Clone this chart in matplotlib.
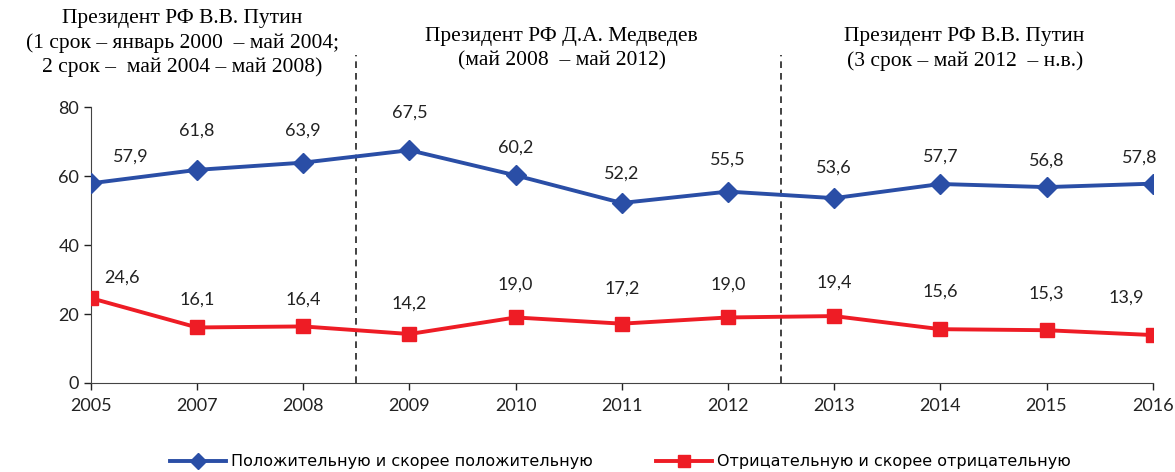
import matplotlib.pyplot as plt

# данные
years = ['2005', '2007', '2008', '2009', '2010', '2011', '2012', '2013', '2014', '2015', '2016']
positive = [57.9, 61.8, 63.9, 67.5, 60.2, 52.2, 55.5, 53.6, 57.7, 56.8, 57.8]
negative = [24.6, 16.1, 16.4, 14.2, 19.0, 17.2, 19.0, 19.4, 15.6, 15.3, 13.9]
pos_label = 'Положительную и скорее положительную'
neg_label = 'Отрицательную и скорее отрицательную'
periods = ['Президент РФ В.В. Путин\n(1 срок – январь 2000  – май 2004;\n2 срок –  май 2004 – май 2008)',
           'Президент РФ Д.А. Медведев\n(май 2008  – май 2012)',
           'Президент РФ В.В. Путин\n(3 срок – май 2012  – н.в.)']

plt.rcParams['font.family'] = ['Lato', 'DejaVu Sans']

fig = plt.figure(figsize=(11.75, 4.72), dpi=100)
ax = fig.add_axes([0.0774, 0.1886, 0.9036, 0.5845])

x = list(range(len(years)))
ax.plot(x, positive, color='#2a4ea6', lw=2.8, marker='D', ms=10, label=pos_label, zorder=3)
ax.plot(x, negative, color='#ee1c25', lw=2.8, marker='s', ms=10, label=neg_label, zorder=3)

# подписи значений (смещения в пунктах)
pos_off = [(29, 19), (0, 28), (0, 23), (0, 27), (0, 20), (0, 21), (0, 23), (0, 22), (0, 20), (0, 19), (-9, 19)]
neg_off = [(22, 15), (0, 20), (0, 19), (0, 22), (0, 24), (0, 25), (0, 24), (0, 24), (0, 27), (0, 26), (-19, 27)]
for i in x:
    ax.annotate(f'{positive[i]:.1f}'.replace('.', ','), (i, positive[i]), xytext=pos_off[i],
                textcoords='offset points', ha='center', va='center', fontsize=13, color='#222222')
    ax.annotate(f'{negative[i]:.1f}'.replace('.', ','), (i, negative[i]), xytext=neg_off[i],
                textcoords='offset points', ha='center', va='center', fontsize=13, color='#222222')

ax.set_xlim(0, len(years) - 1)
ax.set_ylim(0, 80)
ax.set_yticks([0, 20, 40, 60, 80])
ax.set_xticks(x)
ax.set_xticklabels(years)
ax.tick_params(labelsize=13, colors='#222222', length=5, width=1)
ax.tick_params(axis='x', pad=6)
for s in ['top', 'right']:
    ax.spines[s].set_visible(False)
for s in ['left', 'bottom']:
    ax.spines[s].set_color('#444444')

# вертикальные пунктирные линии смены президента
for xv in [2.5, 6.5]:
    ax.plot([xv, xv], [0, 95], color='#222222', lw=1.2, ls=(0, (4, 3)), clip_on=False)

# подписи периодов
serif = ['Liberation Serif', 'DejaVu Serif']
fig.text(0.155, 0.98, periods[0], ha='center', va='top', fontsize=15.5, family=serif, linespacing=1.32)
fig.text(0.478, 0.942, periods[1], ha='center', va='top', fontsize=15.5, family=serif, linespacing=1.32)
fig.text(0.821, 0.942, periods[2], ha='center', va='top', fontsize=15.5, family=serif, linespacing=1.32)

fig.legend(loc='center', bbox_to_anchor=(0.528, 0.022), ncol=2, frameon=False,
           handlelength=3.5, columnspacing=4, handletextpad=0.3, markerscale=0.8,
           prop={'family': ['Liberation Sans Narrow', 'DejaVu Sans'], 'size': 11.5})

fig.savefig('out.png', dpi=100)
